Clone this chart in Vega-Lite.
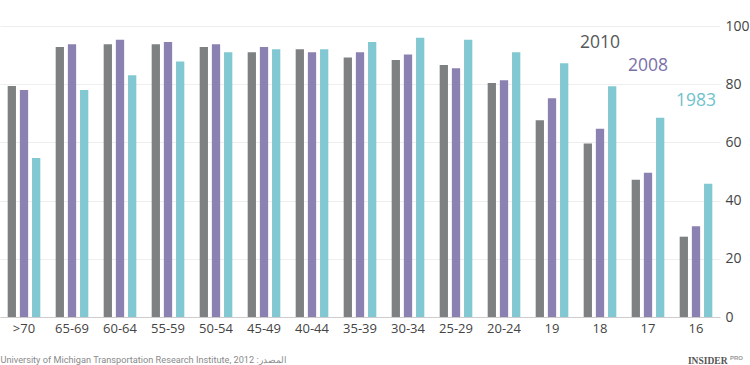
{
  "$schema": "https://vega.github.io/schema/vega-lite/v6.json",
  "width": 720,
  "height": 291,
  "autosize": {"type": "none"},
  "padding": {"left": 0, "top": 26, "right": 30, "bottom": 48},
  "background": "white",
  "config": {"view": {"stroke": null}, "font": "Open Sans"},
  "title": {
    "text": "PRO",
    "orient": "bottom",
    "anchor": "end",
    "frame": "group",
    "offset": 0,
    "dx": 23,
    "dy": -10,
    "fontSize": 6,
    "fontWeight": "bold",
    "font": "Liberation Sans",
    "color": "#999999"
  },
  "datasets": {
    "bars": [
      {"age": ">70", "year": "2010", "value": 79.4},
      {"age": ">70", "year": "2008", "value": 78.0},
      {"age": ">70", "year": "1983", "value": 54.6},
      {"age": "65-69", "year": "2010", "value": 92.8},
      {"age": "65-69", "year": "2008", "value": 93.7},
      {"age": "65-69", "year": "1983", "value": 78.0},
      {"age": "60-64", "year": "2010", "value": 93.7},
      {"age": "60-64", "year": "2008", "value": 95.3},
      {"age": "60-64", "year": "1983", "value": 83.1},
      {"age": "55-59", "year": "2010", "value": 93.7},
      {"age": "55-59", "year": "2008", "value": 94.5},
      {"age": "55-59", "year": "1983", "value": 87.8},
      {"age": "50-54", "year": "2010", "value": 92.8},
      {"age": "50-54", "year": "2008", "value": 93.7},
      {"age": "50-54", "year": "1983", "value": 91.0},
      {"age": "45-49", "year": "2010", "value": 91.0},
      {"age": "45-49", "year": "2008", "value": 92.8},
      {"age": "45-49", "year": "1983", "value": 92.0},
      {"age": "40-44", "year": "2010", "value": 92.0},
      {"age": "40-44", "year": "2008", "value": 91.0},
      {"age": "40-44", "year": "1983", "value": 92.0},
      {"age": "35-39", "year": "2010", "value": 89.2},
      {"age": "35-39", "year": "2008", "value": 91.0},
      {"age": "35-39", "year": "1983", "value": 94.5},
      {"age": "30-34", "year": "2010", "value": 88.3},
      {"age": "30-34", "year": "2008", "value": 90.2},
      {"age": "30-34", "year": "1983", "value": 96.0},
      {"age": "25-29", "year": "2010", "value": 86.6},
      {"age": "25-29", "year": "2008", "value": 85.5},
      {"age": "25-29", "year": "1983", "value": 95.3},
      {"age": "20-24", "year": "2010", "value": 80.4},
      {"age": "20-24", "year": "2008", "value": 81.4},
      {"age": "20-24", "year": "1983", "value": 91.0},
      {"age": "19", "year": "2010", "value": 67.6},
      {"age": "19", "year": "2008", "value": 75.2},
      {"age": "19", "year": "1983", "value": 87.2},
      {"age": "18", "year": "2010", "value": 59.6},
      {"age": "18", "year": "2008", "value": 64.7},
      {"age": "18", "year": "1983", "value": 79.3},
      {"age": "17", "year": "2010", "value": 47.2},
      {"age": "17", "year": "2008", "value": 49.6},
      {"age": "17", "year": "1983", "value": 68.5},
      {"age": "16", "year": "2010", "value": 27.6},
      {"age": "16", "year": "2008", "value": 31.2},
      {"age": "16", "year": "1983", "value": 45.8}
    ],
    "labels": [
      {"age": "18", "year": "2010", "value": 94.3},
      {"age": "17", "year": "2008", "value": 86.2},
      {"age": "16", "year": "1983", "value": 74.3}
    ]
  },
  "resolve": {"scale": {"color": "independent"}},
  "layer": [
    {
      "data": {"name": "bars"},
      "mark": {"type": "bar"},
      "encoding": {
        "x": {
          "field": "age",
          "type": "nominal",
          "scale": {
            "domain": [">70", "65-69", "60-64", "55-59", "50-54", "45-49", "40-44", "35-39", "30-34", "25-29", "20-24", "19", "18", "17", "16"],
            "paddingInner": 0.32,
            "paddingOuter": 0.16
          },
          "axis": {
            "title": "University of Michigan Transportation Research Institute, 2012 :المصدر",
            "titleX": 0,
            "titleY": 45,
            "titleAlign": "left",
            "titleBaseline": "alphabetic",
            "titleFont": "Roboto",
            "titleFontSize": 9.2,
            "titleFontWeight": "normal",
            "titleColor": "#8a8a8a",
            "labelAngle": 0,
            "labelFontSize": 13,
            "labelColor": "#444444",
            "labelPadding": 5,
            "ticks": false,
            "domainColor": "#cccccc",
            "grid": false
          }
        },
        "xOffset": {
          "field": "year",
          "sort": ["2010", "2008", "1983"],
          "scale": {"paddingInner": 0.32, "paddingOuter": 0}
        },
        "y": {
          "field": "value",
          "type": "quantitative",
          "scale": {"domain": [0, 100]},
          "axis": {
            "orient": "right",
            "values": [0, 20, 40, 60, 80, 100],
            "title": "INSIDER",
            "titleAngle": 0,
            "titleX": 7,
            "titleY": 337,
            "titleAlign": "right",
            "titleBaseline": "alphabetic",
            "titleFont": "Liberation Serif",
            "titleFontSize": 9.5,
            "titleFontWeight": "bold",
            "titleColor": "#555555",
            "labelFontSize": 14,
            "labelColor": "#444444",
            "labelPadding": 5,
            "ticks": false,
            "domain": false,
            "grid": true,
            "gridColor": "#eeeeee"
          }
        },
        "color": {
          "field": "year",
          "type": "nominal",
          "scale": {"domain": ["2010", "2008", "1983"], "range": ["#7e8182", "#8b82b2", "#82c8d2"]},
          "legend": null
        }
      }
    },
    {
      "data": {"name": "labels"},
      "mark": {"type": "text", "fontSize": 17.5, "baseline": "middle", "align": "center"},
      "encoding": {
        "x": {"field": "age", "type": "nominal"},
        "y": {"field": "value", "type": "quantitative"},
        "text": {"field": "year"},
        "color": {
          "field": "year",
          "type": "nominal",
          "scale": {"domain": ["2010", "2008", "1983"], "range": ["#555759", "#7a70a8", "#6fc2cd"]},
          "legend": null
        }
      }
    }
  ]
}
